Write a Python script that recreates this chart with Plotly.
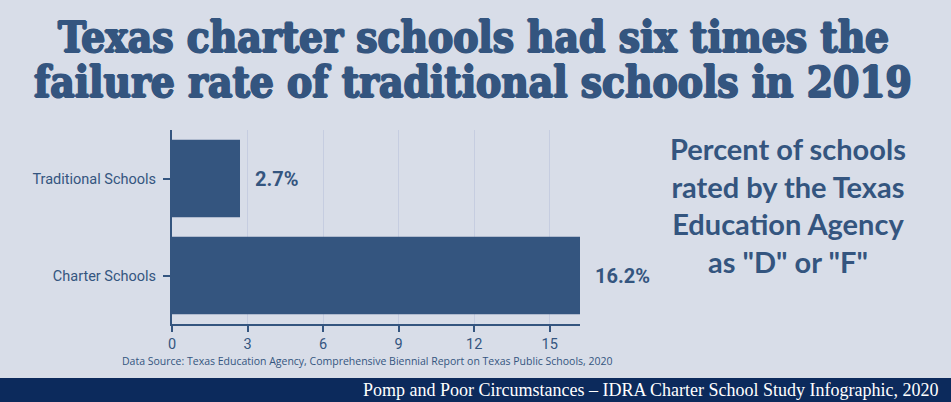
import plotly.graph_objects as go

categories = ["Charter Schools", "Traditional Schools"]
values = [16.2, 2.7]
value_labels = ["16.2%", "2.7%"]
tick_vals = [0, 3, 6, 9, 12, 15]

BG = "#d8dde8"
BAR = "#34557f"
NAVY = "#0c2a5c"

W, H = 951, 402
L, R, T, B = 172, 371, 130, 78
ph = H - T - B

def py(pix):  # pixel y from top -> paper y
    return (H - B - pix) / ph

def px(pix):
    return (pix - L) / (W - L - R)

fig = go.Figure()
fig.add_trace(go.Bar(
    y=categories, x=values, orientation="h",
    marker=dict(color=BAR, line=dict(width=0)),
    hoverinfo="skip",
))

for c, v, t in zip(categories, values, value_labels):
    fig.add_annotation(x=v, y=c, xref="x", yref="y", text=t, showarrow=False,
                       xanchor="left", xshift=13,
                       font=dict(family="Roboto", size=20, color=BAR, weight="bold"))

fig.update_layout(
    width=W, height=H,
    margin=dict(l=L, r=R, t=T, b=B, pad=0),
    paper_bgcolor=BG, plot_bgcolor=BG,
    bargap=0.2,
    showlegend=False,
    xaxis=dict(range=[0, 16.2], tickvals=tick_vals, ticks="outside", ticklen=6,
               tickcolor=BAR, tickwidth=2, showline=True, linecolor=BAR, linewidth=2,
               showgrid=True, gridcolor="#c6cde0", gridwidth=1, zeroline=False,
               tickfont=dict(family="Roboto", size=14.5, color=BAR)),
    yaxis=dict(ticks="outside", ticklen=7, tickcolor=BAR, tickwidth=2,
               showline=True, linecolor=BAR, linewidth=2, showgrid=False,
               tickfont=dict(family="Roboto", size=14.5, color=BAR), ticklabelstandoff=4),
)

# footer band
fig.add_shape(type="rect", xref="paper", yref="paper",
              x0=px(0), x1=px(W), y0=py(H), y1=py(378),
              fillcolor=NAVY, line=dict(width=0), layer="below")

fig.add_annotation(xref="paper", yref="paper", x=px(940), y=py(390),
                   xanchor="right", yanchor="middle", showarrow=False,
                   text="Pomp and Poor Circumstances – IDRA Charter School Study Infographic, 2020",
                   font=dict(family="Liberation Serif", size=18, color="white"))

# title
thick = "1px 0 0 #34557f, -1px 0 0 #34557f, 0 1px 0 #34557f, 0 -1px 0 #34557f"
fig.add_annotation(xref="paper", yref="paper", x=px(473), y=py(38),
                   xanchor="center", yanchor="middle", showarrow=False,
                   text="Texas charter schools had six times the",
                   font=dict(family="DejaVu Serif Condensed", size=42, color=BAR,
                             weight="bold", shadow=thick))
fig.add_annotation(xref="paper", yref="paper", x=px(473), y=py(82),
                   xanchor="center", yanchor="middle", showarrow=False,
                   text="failure rate of traditional schools in 2019",
                   font=dict(family="DejaVu Serif Condensed", size=42, color=BAR,
                             weight="bold", shadow=thick))

# side text
fig.add_annotation(xref="paper", yref="paper", x=px(788), y=py(205),
                   xanchor="center", yanchor="middle", showarrow=False,
                   text="Percent of schools<br>rated by the Texas<br>Education Agency<br>as \"D\" or \"F\"",
                   align="center",
                   font=dict(family="Lato", size=29, color=BAR, weight="bold"))

# source
fig.add_annotation(xref="paper", yref="paper", x=px(367), y=py(361),
                   xanchor="center", yanchor="middle", showarrow=False,
                   text="Data Source: Texas Education Agency, Comprehensive Biennial Report on Texas Public Schools, 2020",
                   font=dict(family="Open Sans", size=10.5, color=BAR))

fig.write_html("out.html", config={"displayModeBar": False},
               post_script="document.body.style.margin='0';")
